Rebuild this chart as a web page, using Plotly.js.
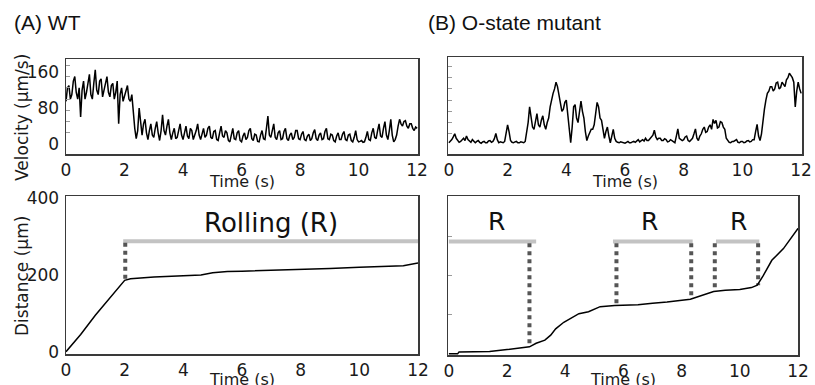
<!DOCTYPE html>
<html>
<head>
<meta charset="utf-8">
<script src="https://cdn.plot.ly/plotly-3.0.1.min.js"></script>
<style>html,body{margin:0;padding:0;background:#fff;}#chart{width:815px;height:385px;}</style>
</head>
<body>
<div id="chart"></div>
<script>
// ---------- DATA ----------
const velStep = 0.05; // sampling interval of the velocity traces (s)
const velWT = [
  95,125,130,100,110,140,150,115,100,125,60,120,140,100,115,140,155,110,100,135,
  165,120,110,140,145,105,120,135,150,115,105,130,135,100,115,140,45,110,125,95,
  105,120,130,100,95,110,60,35,12,30,80,40,20,45,55,25,10,30,45,20,
  15,35,50,25,8,30,65,30,20,40,55,25,10,25,35,12,15,30,45,20,
  10,25,40,18,12,35,30,10,18,30,45,20,10,25,35,15,20,35,40,15,
  12,28,30,10,8,25,40,18,15,30,25,8,5,20,35,12,10,25,30,8,
  5,18,25,10,15,30,35,12,8,22,20,6,5,20,30,12,10,35,62,20,
  15,30,45,15,10,25,30,10,12,28,35,12,8,20,25,10,15,30,30,12,
  10,22,28,10,8,18,22,8,12,25,32,12,8,20,25,10,12,28,35,12,
  10,22,20,8,5,18,25,10,10,22,28,10,8,20,22,8,5,15,30,10,
  5,6,8,4,5,15,28,10,8,25,35,15,12,30,45,18,15,35,50,20,
  10,30,55,20,5,10,20,40,55,45,40,50,52,40,35,45,45,35,30,38,
  35];
const velMut = [
  5,8,12,18,25,15,10,6,8,12,15,10,20,12,8,6,12,8,5,8,
  10,6,4,7,8,5,5,9,10,6,8,14,26,12,5,7,6,5,8,25,
  45,30,10,6,5,7,8,5,5,7,6,5,8,25,50,85,60,40,35,55,
  70,45,40,55,65,45,35,50,60,85,105,115,125,140,130,110,95,75,80,95,
  100,70,45,5,40,85,90,60,50,80,98,75,60,30,10,20,30,35,35,45,
  70,95,85,60,55,30,15,30,40,20,5,20,35,15,8,6,5,7,6,5,
  4,6,8,5,5,7,8,6,10,12,7,10,12,9,15,10,10,14,18,22,
  33,18,12,15,15,10,10,14,12,7,8,12,10,7,5,20,36,15,12,10,
  12,18,20,10,8,12,15,25,36,15,10,20,25,35,40,28,30,40,45,35,
  57,48,55,38,40,52,50,40,35,15,10,6,5,8,8,10,12,6,5,8,
  8,5,6,9,10,7,8,12,12,30,46,20,10,25,60,80,100,115,120,130,
  130,120,125,138,140,125,128,140,135,130,145,150,160,155,150,140,85,120,140,125,
  115];

const distTimeWT = [0,0.5,1.0,1.5,1.8,2.0,2.2,3.0,4.0,4.6,5.0,5.5,6,7,8,9,10,11,11.5,12];
const distWT     = [0,45,95,140,170,186,190,195,198,200,206,209,210,212,215,217,220,222,224,231];

const distTimeMut = [0,0.3,0.35,1.4,2.0,2.7,2.77,3.0,3.3,3.5,3.67,3.95,4.2,4.47,4.8,5.0,5.2,5.7,6.5,7.0,7.5,8.3,8.7,9.1,9.5,10.0,10.4,10.6,10.8,11.1,11.5,11.8,12];
const distMut     = [0,0,5,6,11,16,18,27,35,48,64,81,92,103,108,115,121,124,126,130,133,140,150,160,163,165,170,176,200,240,270,300,322];

// rolling (R) periods
const rollLevel = 288;
const rollStartWT = 1.95, rollEndWT = 12;
const dropTimeWT = [2.02], dropBottomWT = [188];
const rollStartMut = [0, 5.64, 9.18];
const rollEndMut   = [3.0, 8.38, 10.67];
const dropTimeMut   = [2.77, 5.76, 8.33, 9.14, 10.63];
const dropBottomMut = [18, 125, 143, 161, 176];
const dropTop = 284;
const rLabelWT = {t: 7.0, y: 336, text: 'Rolling (R)'};
const rLabelMutT = [1.65, 6.9, 9.95];
const rLabelMutY = 339;

const panelTitles = ['(A) WT', '(B) O-state mutant'];
const velTicks = [0, 80, 160];
const velMinor = [25, 50, 75, 100, 125, 150, 175];
const distTicks = [0, 200, 400];
const distMinor = [100, 200, 300];
const timeTicks = [0, 2, 4, 6, 8, 10, 12];

// ---------- BUILD ----------
const tVel = velWT.map((_, i) => +(i * velStep).toFixed(2));
const tVelM = velMut.map((_, i) => +(i * velStep).toFixed(2));

function segs(starts, ends, y0, y1) {
  const xs = [], ys = [];
  for (let i = 0; i < starts.length; i++) {
    xs.push(starts[i], ends[i], null);
    ys.push(y0[i], y1[i], null);
  }
  return {xs, ys};
}
const mutBars = segs(rollStartMut, rollEndMut, rollStartMut.map(() => rollLevel), rollStartMut.map(() => rollLevel));
const mutDrops = segs(dropTimeMut, dropTimeMut, dropTimeMut.map(() => dropTop), dropBottomMut);
const wtDrops = segs(dropTimeWT, dropTimeWT, dropTimeWT.map(() => dropTop), dropBottomWT);

const black = '#000';
const barColor = '#c3c3c3';
const dotColor = '#555555';

const traces = [
  {x: tVel, y: velWT, xaxis: 'x', yaxis: 'y', mode: 'lines', line: {color: black, width: 1.5}},
  {x: tVelM, y: velMut, xaxis: 'x2', yaxis: 'y2', mode: 'lines', line: {color: black, width: 1.5}},
  {x: [rollStartWT, rollEndWT], y: [rollLevel, rollLevel], xaxis: 'x3', yaxis: 'y3', mode: 'lines', line: {color: barColor, width: 4}},
  {x: wtDrops.xs, y: wtDrops.ys, xaxis: 'x3', yaxis: 'y3', mode: 'lines', line: {color: dotColor, width: 4, dash: 'dot'}},
  {x: distTimeWT, y: distWT, xaxis: 'x3', yaxis: 'y3', mode: 'lines', line: {color: black, width: 1.5}},
  {x: mutBars.xs, y: mutBars.ys, xaxis: 'x4', yaxis: 'y4', mode: 'lines', line: {color: barColor, width: 4}},
  {x: mutDrops.xs, y: mutDrops.ys, xaxis: 'x4', yaxis: 'y4', mode: 'lines', line: {color: dotColor, width: 4, dash: 'dot'}},
  {x: distTimeMut, y: distMut, xaxis: 'x4', yaxis: 'y4', mode: 'lines', line: {color: black, width: 1.5}}
];

const W = 815, H = 385;
const px = v => v / W, py = v => 1 - v / H;
const tickFont = {family: 'DejaVu Sans', size: 17, color: '#1a1a1a'};
const frame = {showline: true, mirror: true, linecolor: '#3a3a3a', linewidth: 1.5, zeroline: false, showgrid: false};

function xAxis(dom, range, anchor) {
  return Object.assign({}, frame, {domain: dom, range: range, anchor: anchor, tickmode: 'array', tickvals: timeTicks,
    ticks: '', tickfont: tickFont, ticklabelstandoff: 0});
}
function yAxis(dom, range, anchor, vals, minorVals, showLabels) {
  return Object.assign({}, frame, {domain: dom, range: range, anchor: anchor, tickmode: 'array', tickvals: vals,
    ticks: '', showticklabels: showLabels, tickfont: tickFont, ticklabelstandoff: 2,
    minor: {tickmode: 'array', tickvals: minorVals, ticks: 'inside', ticklen: 4, tickcolor: '#9a9a9a', tickwidth: 1}});
}

const labelFont = {family: 'DejaVu Sans', size: 16, color: '#1a1a1a'};
const layout = {
  width: W, height: H,
  margin: {l: 0, r: 0, t: 0, b: 0},
  paper_bgcolor: '#fff', plot_bgcolor: '#fff',
  showlegend: false,
  xaxis:  xAxis([px(66), px(418)], [0, 12.03], 'y'),
  yaxis:  yAxis([py(154), py(59)], [-22, 189], 'x', velTicks, velMinor, true),
  xaxis2: xAxis([px(448), px(802)], [-0.03, 12.03], 'y2'),
  yaxis2: yAxis([py(154), py(57)], [-20, 196], 'x2', velTicks, velMinor, false),
  xaxis3: xAxis([px(66), px(418)], [0, 12], 'y3'),
  yaxis3: yAxis([py(354), py(196)], [-6, 406], 'x3', distTicks, [], true),
  xaxis4: xAxis([px(448), px(798)], [-0.03, 12], 'y4'),
  yaxis4: yAxis([py(355), py(196)], [-3, 405], 'x4', distTicks, distMinor, false),
  annotations: [
    {text: panelTitles[0], xref: 'paper', yref: 'paper', x: px(12), y: py(22), xanchor: 'left', yanchor: 'middle', showarrow: false,
      font: {family: 'Liberation Sans, Arial', size: 21, color: '#111'}},
    {text: panelTitles[1], xref: 'paper', yref: 'paper', x: px(426), y: py(22), xanchor: 'left', yanchor: 'middle', showarrow: false,
      font: {family: 'Liberation Sans, Arial', size: 21, color: '#111'}},
    {text: 'Velocity (µm/s)', xref: 'paper', yref: 'paper', x: px(22), y: py(118), textangle: -90, showarrow: false,
      xanchor: 'center', yanchor: 'middle', font: {family: 'DejaVu Sans', size: 17, color: '#1a1a1a'}},
    {text: 'Distance (µm)', xref: 'paper', yref: 'paper', x: px(22), y: py(276), textangle: -90, showarrow: false,
      xanchor: 'center', yanchor: 'middle', font: {family: 'DejaVu Sans', size: 17, color: '#1a1a1a'}},
    {text: 'Time (s)', xref: 'paper', yref: 'paper', x: px(242), y: py(182), showarrow: false, xanchor: 'center', yanchor: 'middle', font: labelFont},
    {text: 'Time (s)', xref: 'paper', yref: 'paper', x: px(625), y: py(182), showarrow: false, xanchor: 'center', yanchor: 'middle', font: labelFont},
    {text: 'Time (s)', xref: 'paper', yref: 'paper', x: px(242), y: py(379), showarrow: false, xanchor: 'center', yanchor: 'middle', font: labelFont},
    {text: 'Time (s)', xref: 'paper', yref: 'paper', x: px(623), y: py(379), showarrow: false, xanchor: 'center', yanchor: 'middle', font: labelFont},
    {text: rLabelWT.text, xref: 'x3', yref: 'y3', x: rLabelWT.t, y: rLabelWT.y, showarrow: false, xanchor: 'center', yanchor: 'middle',
      font: {family: 'DejaVu Sans', size: 26, color: '#111'}}
  ].concat(rLabelMutT.map(t => ({text: 'R', xref: 'x4', yref: 'y4', x: t, y: rLabelMutY, showarrow: false,
      xanchor: 'center', yanchor: 'middle', font: {family: 'DejaVu Sans', size: 25, color: '#111'}})))
};

Plotly.newPlot('chart', traces, layout, {staticPlot: true, displayModeBar: false});
</script>
</body>
</html>
